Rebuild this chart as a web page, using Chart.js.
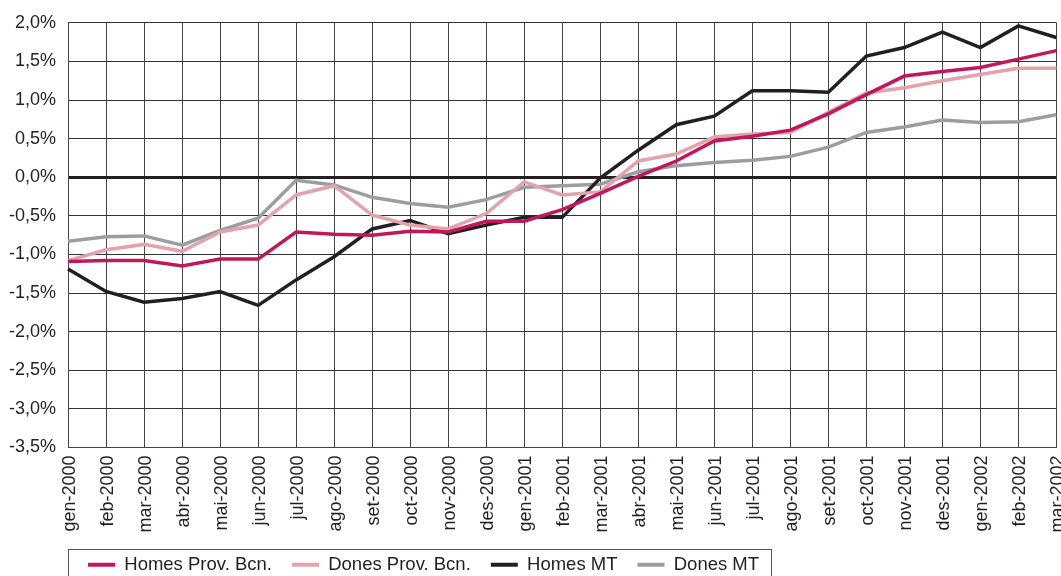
<!DOCTYPE html>
<html>
<head>
<meta charset="utf-8">
<script src="https://cdn.jsdelivr.net/npm/chart.js@4/dist/chart.umd.min.js"></script>
<style>
  html, body { margin: 0; padding: 0; background: #fff; overflow: hidden; }
  #wrap { width: 1061px; height: 576px; overflow: hidden; }
</style>
</head>
<body>
<div id="wrap"><canvas id="chart" width="1086" height="584"></canvas></div>
<script>
// ─── DATA ───────────────────────────────────────────────────────────────────
const months = [
  'gen-2000','feb-2000','mar-2000','abr-2000','mai-2000','jun-2000','jul-2000','ago-2000','set-2000',
  'oct-2000','nov-2000','des-2000','gen-2001','feb-2001','mar-2001','abr-2001','mai-2001','jun-2001',
  'jul-2001','ago-2001','set-2001','oct-2001','nov-2001','des-2001','gen-2002','feb-2002','mar-2002'
];
const homesProv = [-1.09,-1.08,-1.08,-1.15,-1.06,-1.06,-0.71,-0.74,-0.75,-0.70,-0.71,-0.57,-0.57,-0.42,-0.21,0.01,0.21,0.47,0.53,0.61,0.82,1.07,1.31,1.37,1.42,1.53,1.64];
const donesProv = [-1.08,-0.94,-0.87,-0.96,-0.71,-0.62,-0.23,-0.11,-0.49,-0.62,-0.67,-0.47,-0.06,-0.23,-0.19,0.21,0.30,0.52,0.56,0.58,0.84,1.09,1.16,1.25,1.33,1.41,1.41];
const homesMT   = [-1.19,-1.48,-1.62,-1.57,-1.48,-1.66,-1.33,-1.03,-0.67,-0.56,-0.73,-0.62,-0.52,-0.52,-0.01,0.35,0.68,0.79,1.12,1.12,1.10,1.57,1.68,1.88,1.68,1.96,1.81];
const donesMT   = [-0.83,-0.77,-0.76,-0.88,-0.69,-0.53,-0.04,-0.10,-0.26,-0.34,-0.39,-0.29,-0.13,-0.11,-0.09,0.07,0.15,0.19,0.22,0.27,0.39,0.58,0.65,0.74,0.71,0.72,0.81];
const yMin = -3.5, yMax = 2.0, yStep = 0.5;

const INK = '#231f20';
const FONT = "'Liberation Sans', Arial, Helvetica, sans-serif";

function series(label, data, color) {
  return {
    label, data,
    borderColor: color, backgroundColor: color,
    borderWidth: 3.5, pointRadius: 0, tension: 0,
    borderJoinStyle: 'miter', borderCapStyle: 'butt'
  };
}

// draws the frame round the legend items
const legendFrame = {
  id: 'legendFrame',
  afterDraw(chart) {
    const lg = chart.legend;
    if (!lg || !lg.legendHitBoxes.length) return;
    const hb = lg.legendHitBoxes;
    const first = hb[0], last = hb[hb.length - 1];
    const pad = lg.options.labels.padding;
    const cy = first.top + first.height / 2;
    const x0 = Math.round(first.left - pad);
    const x1 = Math.round(last.left + last.width + 12);
    const ctx = chart.ctx;
    ctx.save();
    ctx.strokeStyle = '#555';
    ctx.lineWidth = 1;
    ctx.strokeRect(x0 + 0.5, Math.round(cy - 16) + 0.5, x1 - x0, 32);
    ctx.restore();
  }
};

new Chart(document.getElementById('chart').getContext('2d'), {
  type: 'line',
  data: {
    labels: months,
    datasets: [
      series('Homes Prov. Bcn.', homesProv, '#c0185a'),
      series('Dones Prov. Bcn.', donesProv, '#e2a3ab'),
      series('Homes MT', homesMT, '#231f20'),
      series('Dones MT', donesMT, '#9c9da1')
    ]
  },
  options: {
    responsive: false,
    animation: false,
    devicePixelRatio: 1,
    layout: { padding: { left: -3, top: 9, right: 0, bottom: 0 } },
    plugins: {
      tooltip: { enabled: false },
      legend: {
        position: 'bottom',
        align: 'start',
        fullSize: false,
        labels: {
          boxWidth: 27, boxHeight: 4, padding: 20,
          color: INK, font: { family: FONT, size: 18.5 },
          generateLabels(chart) {
            return Chart.defaults.plugins.legend.labels.generateLabels(chart)
              .map(l => Object.assign(l, { lineWidth: 0 }));
          }
        }
      }
    },
    scales: {
      x: {
        offset: false,
        grid: { color: '#444', lineWidth: 1, drawTicks: false },
        border: { color: '#444', width: 1 },
        ticks: {
          autoSkip: false, maxRotation: 90, minRotation: 90, padding: 8, labelOffset: 2,
          color: INK, font: { family: FONT, size: 18 }
        },
        afterFit: s => { s.height -= 5; }
      },
      y: {
        min: yMin, max: yMax,
        grid: {
          drawTicks: false,
          color: c => Math.abs(c.tick.value) < 1e-9 ? INK : '#333',
          lineWidth: c => Math.abs(c.tick.value) < 1e-9 ? 3 : 1
        },
        border: { color: '#444', width: 1 },
        ticks: {
          stepSize: yStep, padding: 12,
          color: INK, font: { family: FONT, size: 18 },
          callback: v => (Math.abs(v) < 1e-9 ? 0 : v).toFixed(1).replace('.', ',') + '%'
        }
      }
    }
  },
  plugins: [legendFrame]
});
</script>
</body>
</html>
